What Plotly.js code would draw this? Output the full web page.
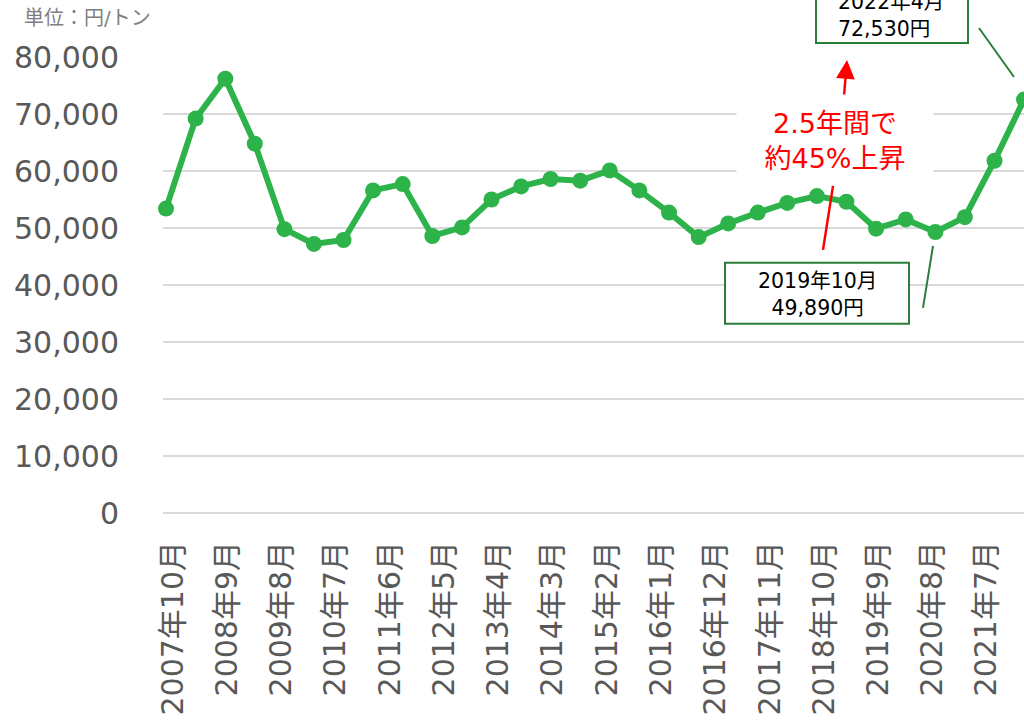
<!DOCTYPE html>
<html>
<head>
<meta charset="utf-8">
<script src="https://cdn.plot.ly/plotly-3.0.1.min.js"></script>
<style>
  html, body { margin: 0; padding: 0; overflow: hidden; background: #ffffff; }
  #chart { position: absolute; left: 0; top: 0; width: 1064px; height: 720px; }
</style>
</head>
<body>
<div id="chart"></div>
<script>
// ---- data ----
const dates = [
  "2007-10-01","2008-04-01","2008-10-01","2009-04-01","2009-10-01","2010-04-01",
  "2010-10-01","2011-04-01","2011-10-01","2012-04-01","2012-10-01","2013-04-01",
  "2013-10-01","2014-04-01","2014-10-01","2015-04-01","2015-10-01","2016-04-01",
  "2016-10-01","2017-04-01","2017-10-01","2018-04-01","2018-10-01","2019-04-01",
  "2019-10-01","2020-04-01","2020-10-01","2021-04-01","2021-10-01","2022-04-01"
];
const prices = [
  53400, 69200, 76200, 64800, 49800, 47200,
  47900, 56600, 57700, 48600, 50100, 55000,
  57300, 58600, 58300, 60100, 56600, 52700,
  48400, 50800, 52700, 54400, 55600, 54600,
  49890, 51500, 49300, 51900, 61800, 72530
];
const tickDates = [
  "2007-10-01","2008-09-01","2009-08-01","2010-07-01","2011-06-01","2012-05-01",
  "2013-04-01","2014-03-01","2015-02-01","2016-01-01","2016-12-01","2017-11-01",
  "2018-10-01","2019-09-01","2020-08-01","2021-07-01"
];
const tickLabels = [
  "2007年10月","2008年9月","2009年8月","2010年7月","2011年6月","2012年5月",
  "2013年4月","2014年3月","2015年2月","2016年1月","2016年12月","2017年11月",
  "2018年10月","2019年9月","2020年8月","2021年7月"
];
const yTicks = [0, 10000, 20000, 30000, 40000, 50000, 60000, 70000, 80000];
const unitLabel = "単位：円/トン";
const noteStart = "2019年10月<br>49,890円";
const noteEnd = "2022年4月<br>72,530円";
const noteRise = "2.5年間で<br>約45%上昇";

// ---- layout geometry (pixels in page) ----
const W = 1064, H = 720;
const plotL = 163, plotR = 1044, plotT = 57, plotB = 513.3;
const pxFirst = 166, pxLast = 1024;
const t0 = Date.parse(dates[0]), t1 = Date.parse(dates[dates.length - 1]);
const msPerPx = (t1 - t0) / (pxLast - pxFirst);
const xRange = [t0 - (pxFirst - plotL) * msPerPx, t1 + (plotR - pxLast) * msPerPx];
// rotated labels sit slightly right of their tick in the reference
const labelShiftPx = 7;
const tickPos = tickDates.map(d => Date.parse(d) + labelShiftPx * msPerPx);

const px = x => (x - plotL) / (plotR - plotL);
const py = y => (plotB - y) / (plotB - plotT);

const FONT = "'DejaVu Sans', 'Noto Sans CJK JP', sans-serif";
const GREEN = "#2db34a";
const DARKGREEN = "#2b7d3a";

const trace = {
  type: "scatter",
  mode: "lines+markers",
  x: dates,
  y: prices,
  line: { color: GREEN, width: 6 },
  marker: { color: GREEN, size: 16 },
  hoverinfo: "x+y",
  cliponaxis: false
};

const shapes = [
  { type: "rect", xref: "paper", yref: "paper", x0: px(816), x1: px(968), y0: py(-22), y1: py(43),
    line: { color: DARKGREEN, width: 2 }, fillcolor: "#ffffff", layer: "above" },
  { type: "rect", xref: "paper", yref: "paper", x0: px(725), x1: px(909), y0: py(263), y1: py(324),
    line: { color: DARKGREEN, width: 2 }, fillcolor: "#ffffff", layer: "above" },
  { type: "line", xref: "paper", yref: "paper", x0: px(979), y0: py(28), x1: px(1014), y1: py(77),
    line: { color: DARKGREEN, width: 2 } },
  { type: "line", xref: "paper", yref: "paper", x0: px(923), y0: py(308), x1: px(933), y1: py(246),
    line: { color: DARKGREEN, width: 2 } },
  { type: "line", xref: "paper", yref: "paper", x0: px(823), y0: py(250), x1: px(833), y1: py(186),
    line: { color: "#ff0000", width: 2.5 } }
];

const annotations = [
  { xref: "paper", yref: "paper", x: px(22), y: py(18), xanchor: "left", yanchor: "middle",
    text: unitLabel, showarrow: false, font: { family: FONT, size: 20, color: "#7f7f7f" } },
  { xref: "paper", yref: "paper", x: px(836), y: py(15), xanchor: "left", yanchor: "middle",
    text: noteEnd, align: "left", showarrow: false, font: { family: FONT, size: 20.5, color: "#000000" } },
  { xref: "paper", yref: "paper", x: px(817), y: py(295), xanchor: "center", yanchor: "middle",
    text: noteStart, align: "center", showarrow: false, font: { family: FONT, size: 20.5, color: "#000000" } },
  { xref: "paper", yref: "paper", x: px(835), y: py(141), xanchor: "center", yanchor: "middle",
    text: noteRise, align: "center", showarrow: false, bgcolor: "#ffffff", width: 190, borderpad: 3,
    font: { family: FONT, size: 27, color: "#ff0000" } },
  { xref: "paper", yref: "paper", x: px(847), y: py(60), ax: -3, ay: 36, axref: "pixel", ayref: "pixel",
    text: "", showarrow: true, arrowhead: 2, arrowsize: 1.5, arrowwidth: 2.5, arrowcolor: "#ff0000" }
];

const layout = {
  width: W, height: H,
  margin: { l: plotL, r: W - plotR, t: plotT, b: H - plotB, pad: 0 },
  paper_bgcolor: "#ffffff", plot_bgcolor: "#ffffff",
  showlegend: false,
  font: { family: FONT, color: "#595959" },
  xaxis: {
    type: "date",
    range: xRange,
    tickmode: "array",
    tickvals: tickPos,
    ticktext: tickLabels,
    tickangle: -90,
    tickfont: { family: FONT, size: 30, color: "#595959" },
    ticks: "outside", ticklen: 15, tickcolor: "rgba(0,0,0,0)",
    showgrid: false, showline: false, zeroline: false,
    fixedrange: true
  },
  yaxis: {
    range: [0, 80000],
    tickmode: "array",
    tickvals: yTicks,
    tickformat: ",d",
    tickfont: { family: FONT, size: 30, color: "#595959" },
    ticks: "outside", ticklen: 37, tickcolor: "rgba(0,0,0,0)",
    showgrid: true, gridcolor: "#d9d9d9", gridwidth: 2,
    zeroline: true, zerolinecolor: "#d9d9d9", zerolinewidth: 2,
    showline: false,
    fixedrange: true
  },
  shapes: shapes,
  annotations: annotations
};

Plotly.newPlot("chart", [trace], layout, { displayModeBar: false, staticPlot: true });
</script>
</body>
</html>
